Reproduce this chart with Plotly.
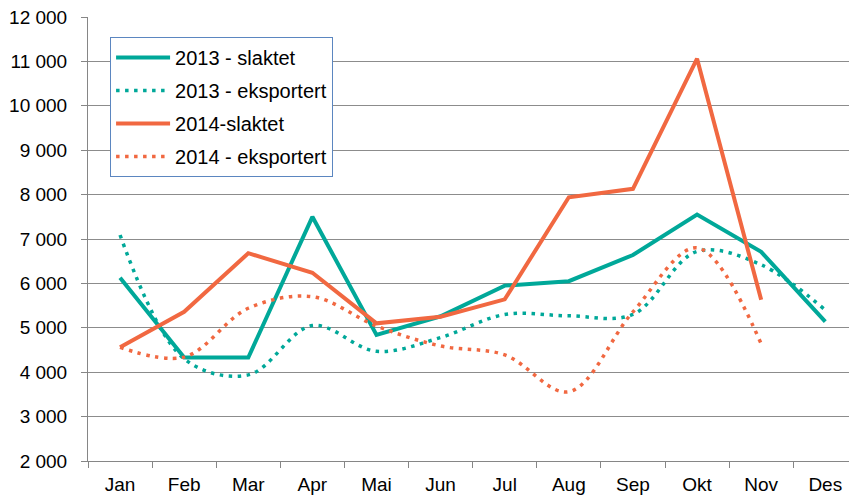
import plotly.graph_objects as go

months = ["Jan", "Feb", "Mar", "Apr", "Mai", "Jun", "Jul", "Aug", "Sep", "Okt", "Nov", "Des"]
slaktet_2013 = [6130, 4330, 4330, 7500, 4840, 5260, 5950, 6050, 6640, 7550, 6710, 5140]
eksportert_2013 = [7090, 4300, 3940, 5050, 4470, 4780, 5300, 5270, 5300, 6720, 6420, 5400]
slaktet_2014 = [4560, 5360, 6680, 6240, 5100, 5250, 5640, 7940, 8130, 11060, 5630]
eksportert_2014 = [4560, 4340, 5440, 5700, 5040, 4590, 4390, 3560, 5360, 6800, 4640]

teal = "#00A899"
orange = "#F16841"
font = "Liberation Sans, Arial, sans-serif"

fig = go.Figure()
fig.add_trace(go.Scatter(x=months, y=slaktet_2013, name="2013 - slaktet", mode="lines",
                         line=dict(color=teal, width=4), legendgroup="a"))
fig.add_trace(go.Scatter(x=months, y=eksportert_2013, name="2013 - eksportert", mode="lines",
                         line=dict(color=teal, width=3.5, dash="3.5px,5.5px", shape="spline", smoothing=1),
                         legendgroup="b"))
fig.add_trace(go.Scatter(x=months[:11], y=slaktet_2014, name="2014-slaktet", mode="lines",
                         line=dict(color=orange, width=4), legendgroup="c"))
fig.add_trace(go.Scatter(x=months[:11], y=eksportert_2014, name="2014 - eksportert", mode="lines",
                         line=dict(color=orange, width=3.5, dash="3.5px,5.5px", shape="spline", smoothing=1),
                         legendgroup="d"))

fig.update_layout(
    width=849, height=499,
    margin=dict(l=88, r=0, t=17, b=38, autoexpand=False),
    plot_bgcolor="white", paper_bgcolor="white",
    separators=", ",
    font=dict(family=font, size=19, color="black"),
    showlegend=True,
    legend=dict(x=0.029, y=0.955, xanchor="left", yanchor="top",
                bgcolor="white", bordercolor="#5B86C0", borderwidth=1,
                font=dict(family=font, size=20, color="black"),
                tracegroupgap=4, itemwidth=54),
)
fig.update_xaxes(type="category", range=[-0.5, 11.37], tickson="boundaries",
                 ticks="outside", ticklen=6, tickcolor="#868686",
                 showline=True, linecolor="#868686", linewidth=1,
                 showgrid=False, ticklabelstandoff=6, automargin=False)
fig.update_yaxes(range=[2000, 12000], dtick=1000, tickformat=",d",
                 ticks="outside", ticklen=6, tickcolor="#868686",
                 showline=True, linecolor="#868686", linewidth=1,
                 showgrid=True, gridcolor="#8C8C8C", gridwidth=1,
                 zeroline=False, ticklabelstandoff=10, automargin=False)

# remove the browser's default 8px body margin so the figure sits at the page corner
fig.write_html("out.html", config={"displayModeBar": False},
               post_script="document.body.style.margin='0';document.body.style.overflow='hidden';")
